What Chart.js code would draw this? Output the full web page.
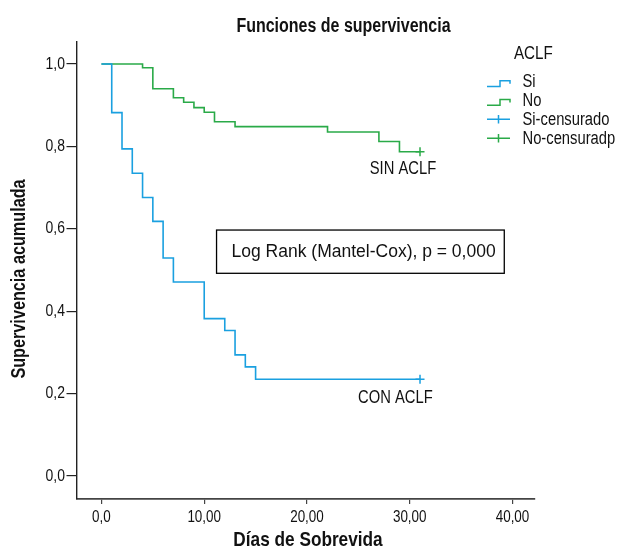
<!DOCTYPE html>
<html><head><meta charset="utf-8">
<script src="https://cdn.jsdelivr.net/npm/chart.js@4/dist/chart.umd.min.js"></script>
<style>html,body{margin:0;padding:0;background:#fff}canvas{display:block}</style>
</head><body>
<canvas id="c" width="630" height="550"></canvas>
<script>
// ---- data ----
const siDays  = [0, 1, 2, 3, 4, 5, 6, 7, 10, 12, 13, 14, 15, 31];
const siSurv  = [1, 0.882, 0.794, 0.735, 0.676, 0.618, 0.529, 0.471, 0.382, 0.353, 0.294, 0.265, 0.235, 0.235];
const noDays  = [0, 4, 5, 7, 8, 9, 10, 11, 13, 22, 27, 29, 31];
const noSurv  = [1, 0.991, 0.940, 0.918, 0.907, 0.894, 0.883, 0.860, 0.848, 0.835, 0.812, 0.787, 0.787];
const siCensorDays = [31];
const siCensorSurv = [0.235];
const noCensorDays = [31];
const noCensorSurv = [0.787];
const xTicks = [0, 10, 20, 30, 40];
const xTickLabels = ['0,0', '10,00', '20,00', '30,00', '40,00'];
const yTicks = [0, 0.2, 0.4, 0.6, 0.8, 1.0];
const yTickLabels = ['0,0', '0,2', '0,4', '0,6', '0,8', '1,0'];
const chartTitle = 'Funciones de supervivencia';
const xTitle = 'Días de Sobrevida';
const yTitle = 'Supervivencia acumulada';
const legendTitle = 'ACLF';
const legendLabels = ['Si', 'No', 'Si-censurado', 'No-censuradp'];
const curveLabels = ['SIN ACLF', 'CON ACLF'];
const testText = 'Log Rank (Mantel-Cox), p = 0,000';

// ---- styling ----
const BLUE = '#1aa0e0', GREEN = '#2aaa48', TEXT = '#111';
const FAM = '"Liberation Sans", Arial, sans-serif';
const SQUEEZE = 0.82; // Arial-Narrow-like condensed rendering

function narrowText(ctx, text, x, y, size, bold, align, baseline, rot) {
  ctx.save();
  ctx.translate(x, y);
  if (rot) ctx.rotate(rot);
  ctx.scale(SQUEEZE, 1);
  ctx.font = (bold ? 'bold ' : '') + size + 'px ' + FAM;
  ctx.textAlign = align;
  ctx.textBaseline = baseline;
  ctx.fillStyle = TEXT;
  ctx.fillText(text, 0, 0);
  ctx.restore();
}

const decorPlugin = {
  id: 'decor',
  afterDraw(chart) {
    const ctx = chart.ctx;
    const xs = chart.scales.x, ys = chart.scales.y;
    const area = chart.chartArea;
    ctx.save();
    // title
    narrowText(ctx, chartTitle, 343.5, 31.5, 19.5, true, 'center', 'alphabetic');
    // axis tick labels
    xTicks.forEach((v, i) => narrowText(ctx, xTickLabels[i], xs.getPixelForValue(v), area.bottom + 22.5, 16.4, false, 'center', 'alphabetic'));
    yTicks.forEach((v, i) => narrowText(ctx, yTickLabels[i], area.left - 12, ys.getPixelForValue(v), 17, false, 'right', 'middle'));
    // axis titles
    narrowText(ctx, xTitle, (area.left + area.right) / 2 + 2, 546, 21, true, 'center', 'alphabetic');
    narrowText(ctx, yTitle, 20, (area.top + area.bottom) / 2 + 8.5, 19.8, true, 'center', 'middle', -Math.PI / 2);
    // legend
    narrowText(ctx, legendTitle, 514, 59, 18.5, false, 'left', 'alphabetic');
    const baseY = [87.3, 106, 125, 144];
    const cols = [BLUE, GREEN, BLUE, GREEN];
    for (let i = 0; i < legendLabels.length; i++) {
      const by = baseY[i];
      narrowText(ctx, legendLabels[i], 522.5, by, 18, false, 'left', 'alphabetic');
      ctx.strokeStyle = cols[i];
      ctx.lineWidth = 1.5;
      ctx.beginPath();
      if (i < 2) {
        ctx.moveTo(487, by - 0.8);
        ctx.lineTo(500, by - 0.8);
        ctx.lineTo(500, by - 6.5);
        ctx.lineTo(510, by - 6.5);
        ctx.lineTo(510, by - 3.5);
      } else {
        ctx.moveTo(487, by - 5.7);
        ctx.lineTo(510, by - 5.7);
        ctx.moveTo(498.5, by - 10);
        ctx.lineTo(498.5, by - 1.5);
      }
      ctx.stroke();
    }
    // curve labels
    narrowText(ctx, curveLabels[0], xs.getPixelForValue(29.34), ys.getPixelForValue(0.733), 18, false, 'center', 'alphabetic');
    narrowText(ctx, curveLabels[1], xs.getPixelForValue(28.6), ys.getPixelForValue(0.176), 18, false, 'center', 'alphabetic');
    // log-rank box
    const bx0 = xs.getPixelForValue(11.2), bx1 = xs.getPixelForValue(39.2);
    const by0 = ys.getPixelForValue(0.597), by1 = ys.getPixelForValue(0.492);
    ctx.strokeStyle = '#000';
    ctx.lineWidth = 1.3;
    ctx.strokeRect(bx0, by0, bx1 - bx0, by1 - by0);
    ctx.fillStyle = TEXT;
    ctx.font = '17.5px ' + FAM;
    ctx.textAlign = 'left';
    ctx.textBaseline = 'alphabetic';
    ctx.fillText(testText, xs.getPixelForValue(12.66), ys.getPixelForValue(0.532));
    ctx.restore();
  }
};

const pts = (xs, ys) => xs.map((d, i) => ({x: d, y: ys[i]}));

new Chart(document.getElementById('c'), {
  type: 'line',
  data: {
    datasets: [
      {label: legendLabels[0], data: pts(siDays, siSurv), borderColor: BLUE, borderWidth: 1.6, stepped: true, pointRadius: 0, fill: false},
      {label: legendLabels[1], data: pts(noDays, noSurv), borderColor: GREEN, borderWidth: 1.6, stepped: true, pointRadius: 0, fill: false},
      {label: legendLabels[2], data: pts(siCensorDays, siCensorSurv), showLine: false, pointStyle: 'cross', pointRadius: 4.5, borderColor: BLUE, borderWidth: 1.5},
      {label: legendLabels[3], data: pts(noCensorDays, noCensorSurv), showLine: false, pointStyle: 'cross', pointRadius: 4.5, borderColor: GREEN, borderWidth: 1.5}
    ]
  },
  options: {
    responsive: false,
    animation: false,
    devicePixelRatio: 1,
    layout: {padding: {top: 42, right: 95, bottom: 0, left: 0}},
    plugins: {legend: {display: false}, title: {display: false}, tooltip: {enabled: false}},
    scales: {
      x: {
        type: 'linear', min: -2.38, max: 42.19,
        afterBuildTicks: s => { s.ticks = xTicks.map(v => ({value: v})); },
        afterFit: s => { s.height = 51; },
        ticks: {display: false},
        grid: {display: true, drawOnChartArea: false, drawTicks: true, tickLength: 5, color: '#444', lineWidth: 1.2},
        border: {display: true, color: '#444', width: 1.8},
        title: {display: false}
      },
      y: {
        type: 'linear', min: -0.0558, max: 1.0534,
        afterBuildTicks: s => { s.ticks = yTicks.map(v => ({value: v})); },
        afterFit: s => { s.width = 77; },
        ticks: {display: false},
        grid: {display: true, drawOnChartArea: false, drawTicks: true, tickLength: 10.5, color: '#222', lineWidth: 1.2},
        border: {display: true, color: '#222', width: 1.4},
        title: {display: false}
      }
    }
  },
  plugins: [decorPlugin]
});
</script>
</body></html>
